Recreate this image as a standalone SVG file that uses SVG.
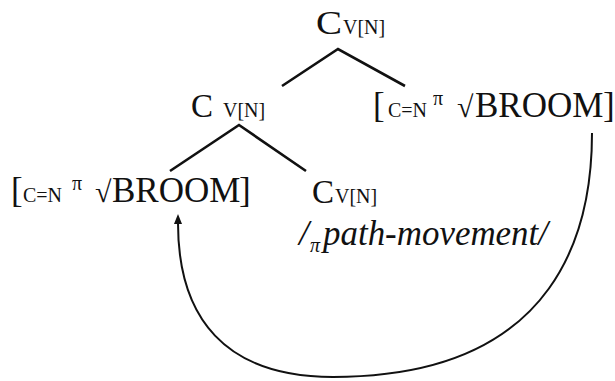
<svg xmlns="http://www.w3.org/2000/svg" width="615" height="381" viewBox="0 0 615 381">
<style>
text{font-family:'Liberation Serif','DejaVu Serif','Times New Roman',serif;fill:#111}
.big{font-size:33px}
.sm{font-size:20px}
.br{font-size:35px}
.rt{font-size:30px}
.it{font-style:italic;font-size:36px}
.pi{font-style:italic;font-size:20px}
.edge{stroke:#111;stroke-width:2.6;fill:none;stroke-linecap:butt}
.arc{stroke:#111;stroke-width:2;fill:none}
</style>
<defs>
<marker id="ah" viewBox="0 0 10 10" refX="1" refY="5" markerWidth="10" markerHeight="10" markerUnits="userSpaceOnUse" orient="auto">
<path d="M0,1 L10,5 L0,9 Z" fill="#111"/>
</marker>
</defs>
<rect width="615" height="381" fill="#fff"/>
<g id="connectors">
<path class="edge" d="M282,86 L338,49 L405,86"/>
<path class="edge" d="M170,171 L239,125 L306,171"/>
<path class="arc" d="M592,133 C592,223 563,377 333,377 C225,377 178,318 178,223" marker-end="url(#ah)"/>
</g>
<g id="root">
<text class="big" x="316" y="34" textLength="26" lengthAdjust="spacingAndGlyphs">C</text>
<text class="sm" x="343" y="34">V[N]</text>
</g>
<g id="c-mid">
<text class="big" x="191" y="117">C</text>
<text class="sm" x="223" y="117">V[N]</text>
</g>
<g id="broom-right">
<text class="br" x="373" y="117">[</text>
<text class="sm" x="388" y="117">C=N</text>
<text class="sm" x="433" y="105">π</text>
<text class="rt" x="457" y="117">√</text>
<text class="br" x="475" y="117">BROOM</text>
<text class="br" x="603" y="117">]</text>
</g>
<g id="broom-left">
<text class="br" x="11" y="202">[</text>
<text class="sm" x="23" y="202">C=N</text>
<text class="sm" x="72" y="190">π</text>
<text class="rt" x="95" y="202">√</text>
<text class="br" x="112" y="202">BROOM</text>
<text class="br" x="239" y="202">]</text>
</g>
<g id="c-low">
<text class="big" x="312" y="203">C</text>
<text class="sm" x="335" y="203">V[N]</text>
</g>
<g id="path-movement">
<text class="it" x="299" y="245">/</text>
<text class="pi" x="310" y="252">π</text>
<text class="it" x="323" y="245" textLength="225" lengthAdjust="spacingAndGlyphs">path-movement/</text>
</g>
</svg>
